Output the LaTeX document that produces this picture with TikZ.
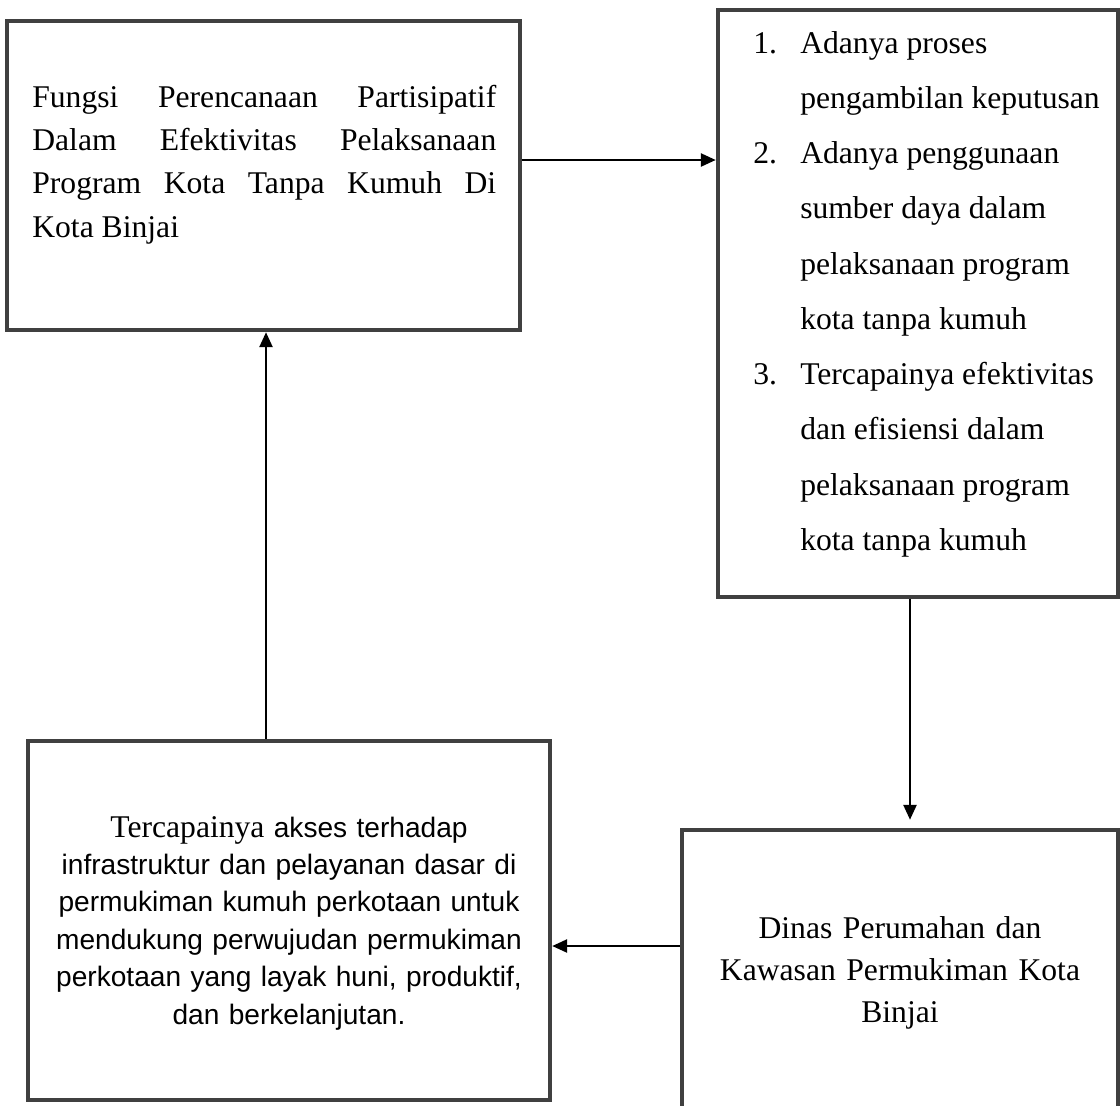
\documentclass[tikz,border=0pt]{standalone}
\usepackage{fontspec}
\setmainfont{Liberation Serif}
\newfontfamily\arialfont{Liberation Sans}
\usetikzlibrary{arrows.meta}
\definecolor{boxgray}{HTML}{404040}

\begin{document}
\begin{tikzpicture}[x=0.02cm,y=-0.02cm,>={Triangle[length=0.3cm,width=0.26cm]},
  box/.style={draw=boxgray,line width=0.09cm,inner sep=0pt},
  arrow/.style={->,line width=0.05cm},
  bodytext/.style={inner sep=0pt,font=\fontsize{18}{24.75}\selectfont}]
\useasboundingbox (0,0) rectangle (1120,1106);
\clip (0,0) rectangle (1120,1106);
\node[box,minimum width=10.26cm,minimum height=6.18cm] (fungsi) at (263.5,175.5) {};
\node[box,minimum width=8cm,minimum height=11.74cm] (indikator) at (918,303.5) {};
\node[box,minimum width=8.72cm,minimum height=5.6cm] (dinas) at (900,970) {};
\node[box,minimum width=10.44cm,minimum height=7.18cm] (tujuan) at (289,920.5) {};
\node[bodytext,anchor=base west,text width=9.28cm,align=justify] (fungsitext) at (32,107)
  {Fungsi Perencanaan Partisipatif\linebreak Dalam Efektivitas Pelaksanaan\linebreak Program Kota Tanpa Kumuh Di\linebreak Kota Binjai};
\node[bodytext,anchor=base west,font=\fontsize{18}{31.45}\selectfont] (indikatortext) at (753,53)
  {\begin{tabular}[t]{@{}p{26.7pt}@{}l@{}}
  1. & Adanya proses\\
     & pengambilan keputusan\\
  2. & Adanya penggunaan\\
     & sumber daya dalam\\
     & pelaksanaan program\\
     & kota tanpa kumuh\\
  3. & Tercapainya efektivitas\\
     & dan efisiensi dalam\\
     & pelaksanaan program\\
     & kota tanpa kumuh
  \end{tabular}};
\node[bodytext,anchor=base,text width=8cm,align=center,font=\fontsize{18}{24}\selectfont] (dinastext) at (900,938)
  {Dinas Perumahan dan\\ Kawasan Permukiman Kota\\ Binjai};
% first word of this box is set in the serif, the rest in Arial
\node[bodytext,anchor=base,text width=10cm,align=center,font=\arialfont\fontsize{16}{21.3}\selectfont] (tujuantext) at (289,837)
  {{\rmfamily\fontsize{18}{21.3}\selectfont Tercapainya} akses terhadap\\ infrastruktur dan pelayanan dasar di\\ permukiman kumuh perkotaan untuk\\ mendukung perwujudan permukiman\\ perkotaan yang layak huni, produktif,\\ dan berkelanjutan.};
\draw[arrow] ([yshift=0.31cm]fungsi.east) -- ([yshift=0.31cm]fungsi.east -| indikator.west);
\draw[arrow,shorten >=0.16cm] ([xshift=-0.16cm]indikator.south) -- ([xshift=-0.16cm]indikator.south |- dinas.north);
\draw[arrow] ([yshift=0.48cm]dinas.west) -- ([yshift=0.48cm]dinas.west -| tujuan.east);
\draw[arrow] ([xshift=-0.46cm]tujuan.north) -- ([xshift=-0.46cm]tujuan.north |- fungsi.south);
\end{tikzpicture}
\end{document}
